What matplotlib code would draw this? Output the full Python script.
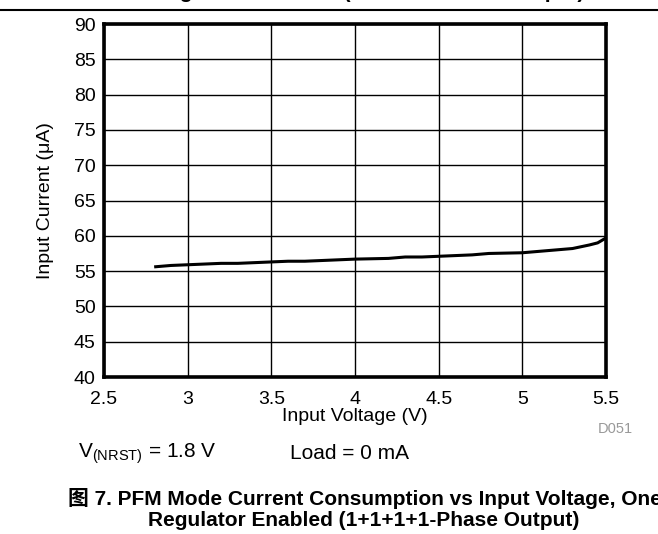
import matplotlib.pyplot as plt
from matplotlib.lines import Line2D

plt.rcParams['font.family'] = ['Liberation Sans', 'Noto Sans CJK SC', 'DejaVu Sans']

# data
vin = [2.8, 2.9, 3.0, 3.1, 3.2, 3.3, 3.4, 3.5, 3.6, 3.7, 3.8, 3.9, 4.0, 4.1, 4.2,
       4.3, 4.4, 4.5, 4.6, 4.7, 4.8, 4.9, 5.0, 5.1, 5.2, 5.3, 5.4, 5.45, 5.5]
iin = [55.6, 55.8, 55.9, 56.0, 56.1, 56.1, 56.2, 56.3, 56.4, 56.4, 56.5, 56.6, 56.7, 56.75, 56.8,
       57.0, 57.0, 57.1, 57.2, 57.3, 57.5, 57.55, 57.6, 57.8, 58.0, 58.2, 58.7, 59.0, 59.7]

xticks = [2.5, 3, 3.5, 4, 4.5, 5, 5.5]
xticklabels = ['2.5', '3', '3.5', '4', '4.5', '5', '5.5']
yticks = list(range(40, 95, 5))

fig = plt.figure(figsize=(6.58, 5.34), dpi=100)
ax = fig.add_axes([0.158, 0.294, 0.763, 0.661])

ax.plot(vin, iin, color='black', lw=2.2, solid_capstyle='butt')
ax.set_xlim(2.5, 5.5)
ax.set_ylim(40, 90)
ax.set_xticks(xticks)
ax.set_xticklabels(xticklabels)
ax.set_yticks(yticks)
ax.grid(True, color='black', lw=1.0)
ax.tick_params(axis='x', length=0, labelsize=14, pad=10)
ax.tick_params(axis='y', length=0, labelsize=14, pad=6)
for s in ax.spines.values():
    s.set_linewidth(2.6)
ax.set_xlabel('Input Voltage (V)', fontsize=14, labelpad=0)
ax.set_ylabel('Input Current (\u03bcA)', fontsize=14, labelpad=14)

fig.text(0.962, 0.197, 'D051', fontsize=10.5, color='#999999', ha='right', va='center')
fig.text(0.118, 0.15, r'V$_{\mathregular{(NRST)}}$ = 1.8 V', fontsize=15, va='center')
fig.text(0.44, 0.15, 'Load = 0 mA', fontsize=15, va='center')

fig.text(0.555, 0.067, '图 7. PFM Mode Current Consumption vs Input Voltage, One', fontsize=15,
         fontweight='bold', ha='center', va='center')
fig.text(0.552, 0.026, 'Regulator Enabled (1+1+1+1-Phase Output)', fontsize=15,
         fontweight='bold', ha='center', va='center')

# cut-off caption of the previous figure and the page rule
fig.text(0.56, 1.004, 'Regulator Enabled (1+1+1+1-Phase Output)', fontsize=15,
         fontweight='bold', ha='center', va='baseline')
fig.add_artist(Line2D([0, 1], [0.981, 0.981], color='black', lw=1.5, transform=fig.transFigure))

fig.savefig('out.png', dpi=100)
